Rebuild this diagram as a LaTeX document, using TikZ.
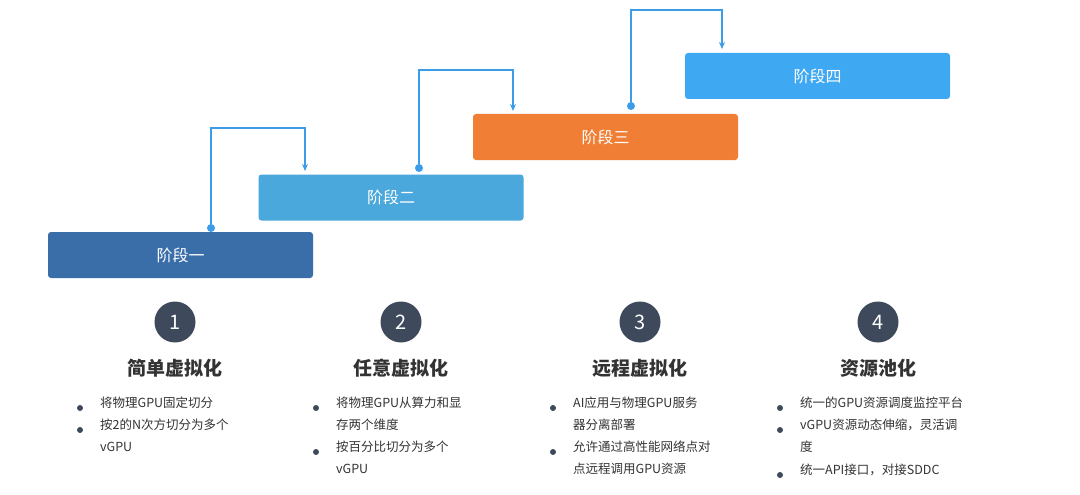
\documentclass[tikz,border=0pt]{standalone}
\usepackage{fontspec}
\setmainfont{Noto Sans CJK SC}
\usetikzlibrary{positioning,arrows.meta}
\definecolor{stageA}{HTML}{3A6EA8}
\definecolor{stageB}{HTML}{4AA8DC}
\definecolor{stageC}{HTML}{F07F35}
\definecolor{stageD}{HTML}{3FA8F2}
\definecolor{linkc}{HTML}{3C9CE8}
\definecolor{numc}{HTML}{3E4A5C}
\definecolor{txt}{HTML}{333333}
\begin{document}
\begin{tikzpicture}[x=1pt,y=-1pt,>={Stealth[length=7pt,width=6pt]},
  stage/.style={rounded corners=3pt,minimum width=265pt,minimum height=46pt,text=white,font=\fontsize{16}{16}\selectfont,inner sep=0pt},
  num/.style={circle,fill=numc,minimum size=41pt,text=white,font=\fontsize{20}{20}\selectfont,inner sep=0pt},
  title/.style={font=\bfseries\fontsize{19}{19}\selectfont,text=txt},
  item/.style={anchor=north west,text width=150pt,font=\fontsize{12.5}{22}\selectfont,text=txt,inner sep=0pt},
  dot/.style={circle,fill=linkc,inner sep=0pt,minimum size=8pt},
  jump/.style={draw=linkc,line width=1.6pt,->}]
  \useasboundingbox[fill=white] (0,0) rectangle (1080,495);
  % stages
  \node[stage,fill=stageA] (s1) at (180.5,255) {阶段一};
  \node[stage,fill=stageB] (s2) at (391,197.5) {阶段二};
  \node[stage,fill=stageC] (s3) at (605.5,137) {阶段三};
  \node[stage,fill=stageD] (s4) at (817.5,76) {阶段四};
  % steps
  \node[dot] (d1) at (211,228) {};
  \node[dot] (d2) at (419,168) {};
  \node[dot] (d3) at (631,106) {};
  \coordinate (e1) at (305,171);
  \coordinate (e2) at (513,111);
  \coordinate (e3) at (722,49);
  \draw[jump] (d1) |- (258,128) -| (e1);
  \draw[jump] (d2) |- (466,70) -| (e2);
  \draw[jump] (d3) |- (676,10) -| (e3);
  % columns
  \node[num] (n1) at (175,322) {1};
  \node[num] (n2) at (401,322) {2};
  \node[num] (n3) at (640,322) {3};
  \node[num] (n4) at (878,322) {4};
  \node[title] (t1) at (175,368) {简单虚拟化};
  \node[title] (t2) at (401,368) {任意虚拟化};
  \node[title] (t3) at (640,368) {远程虚拟化};
  \node[title] (t4) at (878,368) {资源池化};
  \foreach \bx/\by/\tx in {80/408/将物理GPU固定切分, 80/430/按2的N次方切分为多个\\vGPU,
      316/408/将物理GPU从算力和显\\存两个维度, 316/452/按百分比切分为多个\\vGPU,
      553/408/AI应用与物理GPU服务\\器分离部署, 553/452/允许通过高性能网络点对\\点远程调用GPU资源,
      780/408/统一的GPU资源调度监控平台, 780/430/vGPU资源动态伸缩，灵活调\\度, 780/475/统一API接口，对接SDDC}{
    \fill[numc] (\bx,\by) circle (3pt);
    \node[item] at (\bx+20,\by-11) {\tx};
  }
\end{tikzpicture}
\end{document}
